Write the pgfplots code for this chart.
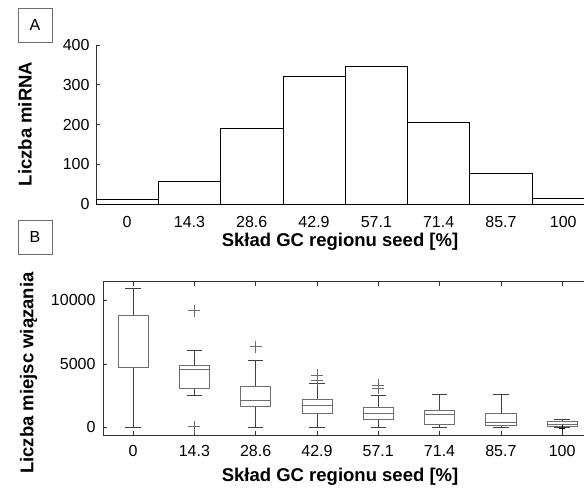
\documentclass[border=0pt]{standalone}
\usepackage{pgfplots}
\pgfplotsset{compat=1.18}
\usepgfplotslibrary{statistics}
\usepackage{fontspec}
\setmainfont{Liberation Sans}
\definecolor{axisgray}{HTML}{333333}
\definecolor{boxgray}{HTML}{6E6E6E}
\begin{document}
\begin{tikzpicture}
\path[use as bounding box] (0pt,0pt) rectangle (584pt,-490pt);
% panel labels
\draw[boxgray, line width=0.6pt] (18pt,-8pt) rectangle (52pt,-42pt);
\node[font=\fontsize{16}{19}\selectfont] at (35pt,-25pt) {A};
\draw[boxgray, line width=0.6pt] (18pt,-220pt) rectangle (52pt,-254pt);
\node[font=\fontsize{16}{19}\selectfont] at (35pt,-237pt) {B};
% ---------------- panel A ----------------
\begin{axis}[
  at={(96pt,-204pt)}, anchor=south west,
  scale only axis, width=498.4pt, height=159pt,
  xmin=-0.5, xmax=7.5, ymin=0, ymax=400,
  axis x line*=bottom, axis y line*=left,
  axis line style={axisgray, line width=0.9pt},
  xtick={0,1,2,3,4,5,6,7},
  xticklabels={0,14.3,28.6,42.9,57.1,71.4,85.7,100},
  x tick style={draw=none},
  ytick={0,100,200,300,400},
  y tick style={axisgray, line width=0.6pt},
  tick align=inside, major tick length=4pt,
  /pgf/number format/assume math mode=true,
  tick label style={font=\fontsize{16}{19}\selectfont},
  xticklabel style={yshift=-9pt},
  yticklabel style={xshift=-3pt},
  label style={font=\bfseries\fontsize{18.5}{22}\selectfont},
  xlabel={Skład GC regionu seed [\%]},
  xlabel style={at={(axis description cs:0.4896,-0.239)}, anchor=center},
  ylabel={Liczba miRNA},
  ylabel style={at={(axis description cs:-0.1425,0.503)}, anchor=center},
  clip=false,
]
\addplot[ybar, bar width=1, bar shift=0pt, fill=white, draw=black, line width=0.7pt]
  coordinates {(0,12) (1,56) (2,191) (3,322) (4,346) (5,205) (6,76) (7,14)};
\end{axis}
% ---------------- panel B ----------------
\begin{axis}[
  at={(103pt,-435pt)}, anchor=south west,
  scale only axis, width=489.8pt, height=153.3pt,
  xmin=-0.49, xmax=7.5, ymin=-606, ymax=11465,
  axis line style={axisgray, line width=0.9pt},
  xtick={0,1,2,3,4,5,6,7},
  xticklabels={0,14.3,28.6,42.9,57.1,71.4,85.7,100},
  ytick={0,5000,10000},
  scaled y ticks=false,
  tick style={axisgray, line width=0.6pt},
  tick align=inside, major tick length=4pt,
  xtick pos=both, ytick pos=left,
  /pgf/number format/assume math mode=true,
  /pgf/number format/1000 sep={},
  tick label style={font=\fontsize{16}{19}\selectfont},
  xticklabel style={yshift=-7pt},
  yticklabel style={xshift=-4pt},
  label style={font=\bfseries\fontsize{18.5}{22}\selectfont},
  xlabel={Skład GC regionu seed [\%]},
  xlabel style={at={(axis description cs:0.484,-0.274)}, anchor=center},
  ylabel={Liczba miejsc wiązania},
  ylabel style={at={(axis description cs:-0.152,0.404)}, anchor=center},
  boxplot/draw direction=y,
  boxplot/box extend=0.49,
  boxplot/whisker extend=0.25,
  boxplot/every box/.style={draw=boxgray, line width=0.7pt},
  boxplot/every median/.style={draw=boxgray, line width=0.7pt},
  boxplot/every whisker/.style={draw=black!75, line width=0.7pt},
]
\addplot[boxplot prepared={draw position=0, lower whisker=0, lower quartile=4700, median=4750, upper quartile=8850, upper whisker=10950}] coordinates {};
\addplot[boxplot prepared={draw position=1, lower whisker=2520, lower quartile=3040, median=4570, upper quartile=4880, upper whisker=6090}, mark=+, mark size=6pt, mark options={boxgray, line width=0.6pt}] coordinates {(0,9180) (0,50)};
\addplot[boxplot prepared={draw position=2, lower whisker=0, lower quartile=1620, median=2150, upper quartile=3250, upper whisker=5300}, mark=+, mark size=6pt, mark options={boxgray, line width=0.6pt}] coordinates {(0,6350)};
\addplot[boxplot prepared={draw position=3, lower whisker=0, lower quartile=1070, median=1700, upper quartile=2175, upper whisker=3460}, mark=+, mark size=6pt, mark options={boxgray, line width=0.6pt}] coordinates {(0,4100) (0,3720)};
\addplot[boxplot prepared={draw position=4, lower whisker=0, lower quartile=630, median=1100, upper quartile=1543, upper whisker=2543}, mark=+, mark size=6pt, mark options={boxgray, line width=0.6pt}] coordinates {(0,3330) (0,3070)};
\addplot[boxplot prepared={draw position=5, lower whisker=0, lower quartile=236, median=1024, upper quartile=1307, upper whisker=2622}] coordinates {};
\addplot[boxplot prepared={draw position=6, lower whisker=0, lower quartile=126, median=362, upper quartile=1102, upper whisker=2622}] coordinates {};
\addplot[boxplot prepared={draw position=7, lower whisker=0, lower quartile=47, median=260, upper quartile=441, upper whisker=654}, mark=+, mark size=3pt, mark options={black, line width=0.8pt}] coordinates {(0,-60)};
\end{axis}
\end{tikzpicture}
\end{document}
